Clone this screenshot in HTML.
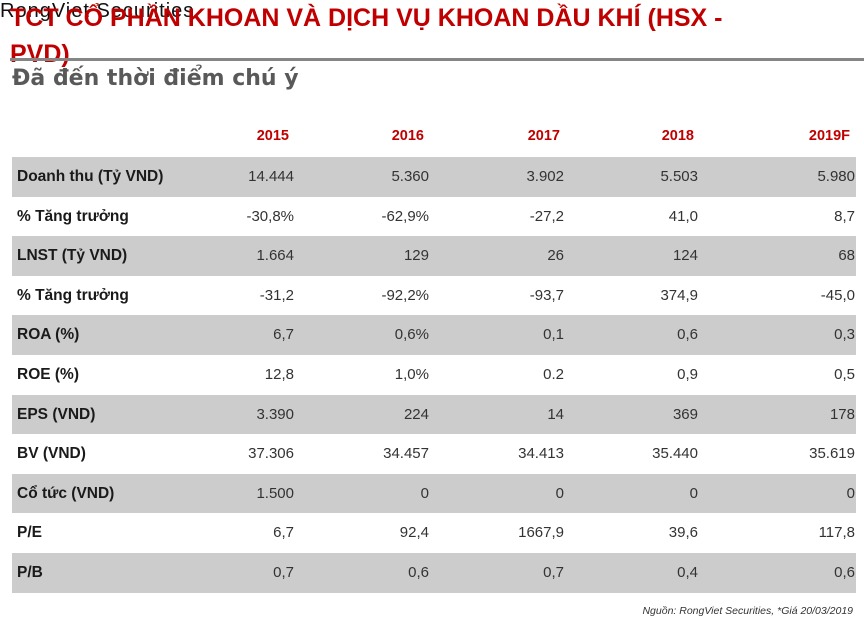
<!DOCTYPE html>
<html>
<head>
<meta charset="utf-8">
<style>
  html,body{margin:0;padding:0;background:#fff;}
  body{width:864px;height:621px;position:relative;overflow:hidden;font-family:"Liberation Sans","Noto Sans CJK SC",sans-serif;}
  .abs{position:absolute;white-space:nowrap;}
  #rv{left:0;top:1px;font-size:20px;line-height:20px;letter-spacing:1px;color:#111;}
  #title{left:10px;top:0;font-size:25px;line-height:36px;font-weight:bold;color:#c00000;}
  #rule{left:10px;top:58px;width:854px;height:3px;background:#858585;}
  #sub{left:12px;top:65px;font-family:"DejaVu Sans",sans-serif;font-size:22px;line-height:28px;font-weight:bold;color:#595959;}
  .yr{top:126px;font-size:14.5px;line-height:20px;font-weight:bold;color:#c00000;text-align:right;}
  .row{left:12px;width:844px;height:39.6px;}
  .g{background:#cccccc;}
  .lab{left:17px;font-size:15.5px;line-height:39.6px;font-weight:bold;color:#1a1a1a;}
  .v{font-size:15px;line-height:39.6px;color:#333;text-align:right;width:120px;}
  #foot{right:11px;top:604px;font-size:10.5px;line-height:14px;font-style:italic;color:#333;}
</style>
</head>
<body>
<div class="abs" id="rv">RongViet Securities</div>
<div class="abs" id="title">TCT CỔ PHẦN KHOAN VÀ DỊCH VỤ KHOAN DẦU KHÍ (HSX -<br>PVD)</div>
<div class="abs" id="rule"></div>
<div class="abs" id="sub">Đã đến thời điểm chú ý</div>

<div class="abs yr" style="left:169px;width:120px;">2015</div>
<div class="abs yr" style="left:304px;width:120px;">2016</div>
<div class="abs yr" style="left:440px;width:120px;">2017</div>
<div class="abs yr" style="left:574px;width:120px;">2018</div>
<div class="abs yr" style="left:730px;width:120px;">2019F</div>

<div class="abs row g" style="top:157px;"></div>
<div class="abs row g" style="top:236.2px;"></div>
<div class="abs row g" style="top:315.4px;"></div>
<div class="abs row g" style="top:394.6px;"></div>
<div class="abs row g" style="top:473.8px;"></div>
<div class="abs row g" style="top:553px;"></div>

<div class="abs lab" style="top:157px;">Doanh thu (Tỷ VND)</div>
<div class="abs v" style="top:157px;left:174px;">14.444</div>
<div class="abs v" style="top:157px;left:309px;">5.360</div>
<div class="abs v" style="top:157px;left:444px;">3.902</div>
<div class="abs v" style="top:157px;left:578px;">5.503</div>
<div class="abs v" style="top:157px;left:735px;">5.980</div>

<div class="abs lab" style="top:196.6px;">% Tăng trưởng</div>
<div class="abs v" style="top:196.6px;left:174px;">-30,8%</div>
<div class="abs v" style="top:196.6px;left:309px;">-62,9%</div>
<div class="abs v" style="top:196.6px;left:444px;">-27,2</div>
<div class="abs v" style="top:196.6px;left:578px;">41,0</div>
<div class="abs v" style="top:196.6px;left:735px;">8,7</div>

<div class="abs lab" style="top:236.2px;">LNST (Tỷ VND)</div>
<div class="abs v" style="top:236.2px;left:174px;">1.664</div>
<div class="abs v" style="top:236.2px;left:309px;">129</div>
<div class="abs v" style="top:236.2px;left:444px;">26</div>
<div class="abs v" style="top:236.2px;left:578px;">124</div>
<div class="abs v" style="top:236.2px;left:735px;">68</div>

<div class="abs lab" style="top:275.8px;">% Tăng trưởng</div>
<div class="abs v" style="top:275.8px;left:174px;">-31,2</div>
<div class="abs v" style="top:275.8px;left:309px;">-92,2%</div>
<div class="abs v" style="top:275.8px;left:444px;">-93,7</div>
<div class="abs v" style="top:275.8px;left:578px;">374,9</div>
<div class="abs v" style="top:275.8px;left:735px;">-45,0</div>

<div class="abs lab" style="top:315.4px;">ROA (%)</div>
<div class="abs v" style="top:315.4px;left:174px;">6,7</div>
<div class="abs v" style="top:315.4px;left:309px;">0,6%</div>
<div class="abs v" style="top:315.4px;left:444px;">0,1</div>
<div class="abs v" style="top:315.4px;left:578px;">0,6</div>
<div class="abs v" style="top:315.4px;left:735px;">0,3</div>

<div class="abs lab" style="top:355px;">ROE (%)</div>
<div class="abs v" style="top:355px;left:174px;">12,8</div>
<div class="abs v" style="top:355px;left:309px;">1,0%</div>
<div class="abs v" style="top:355px;left:444px;">0.2</div>
<div class="abs v" style="top:355px;left:578px;">0,9</div>
<div class="abs v" style="top:355px;left:735px;">0,5</div>

<div class="abs lab" style="top:394.6px;">EPS (VND)</div>
<div class="abs v" style="top:394.6px;left:174px;">3.390</div>
<div class="abs v" style="top:394.6px;left:309px;">224</div>
<div class="abs v" style="top:394.6px;left:444px;">14</div>
<div class="abs v" style="top:394.6px;left:578px;">369</div>
<div class="abs v" style="top:394.6px;left:735px;">178</div>

<div class="abs lab" style="top:434.2px;">BV (VND)</div>
<div class="abs v" style="top:434.2px;left:174px;">37.306</div>
<div class="abs v" style="top:434.2px;left:309px;">34.457</div>
<div class="abs v" style="top:434.2px;left:444px;">34.413</div>
<div class="abs v" style="top:434.2px;left:578px;">35.440</div>
<div class="abs v" style="top:434.2px;left:735px;">35.619</div>

<div class="abs lab" style="top:473.8px;">Cổ tức (VND)</div>
<div class="abs v" style="top:473.8px;left:174px;">1.500</div>
<div class="abs v" style="top:473.8px;left:309px;">0</div>
<div class="abs v" style="top:473.8px;left:444px;">0</div>
<div class="abs v" style="top:473.8px;left:578px;">0</div>
<div class="abs v" style="top:473.8px;left:735px;">0</div>

<div class="abs lab" style="top:513.4px;">P/E</div>
<div class="abs v" style="top:513.4px;left:174px;">6,7</div>
<div class="abs v" style="top:513.4px;left:309px;">92,4</div>
<div class="abs v" style="top:513.4px;left:444px;">1667,9</div>
<div class="abs v" style="top:513.4px;left:578px;">39,6</div>
<div class="abs v" style="top:513.4px;left:735px;">117,8</div>

<div class="abs lab" style="top:553px;">P/B</div>
<div class="abs v" style="top:553px;left:174px;">0,7</div>
<div class="abs v" style="top:553px;left:309px;">0,6</div>
<div class="abs v" style="top:553px;left:444px;">0,7</div>
<div class="abs v" style="top:553px;left:578px;">0,4</div>
<div class="abs v" style="top:553px;left:735px;">0,6</div>

<div class="abs" id="foot">Nguồn: RongViet Securities, *Giá 20/03/2019</div>
</body>
</html>
